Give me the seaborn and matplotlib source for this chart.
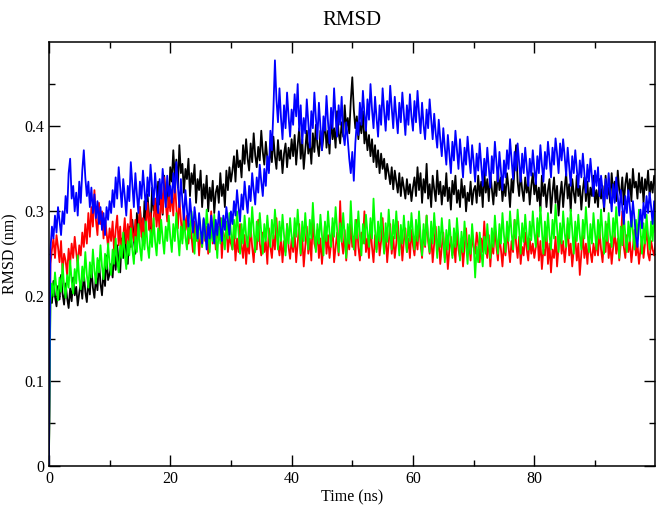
import numpy as np
import pandas as pd
import matplotlib
matplotlib.use("Agg")
import matplotlib.pyplot as plt
import seaborn as sns

# RMSD values, in pm (1e-3 nm), every 0.25 ns from 0 to 100 ns
black = [0,
    205, 192, 218, 200, 188, 212, 196, 225, 203, 190, 215, 198, 186, 209, 194, 222, 201, 211, 189, 204,
    216, 197, 228, 205, 193, 219, 202, 235, 210, 198, 224, 207, 242, 215, 201, 230, 212, 248, 219, 226,
    238, 222, 252, 231, 260, 240, 228, 268, 245, 275, 252, 238, 282, 258, 290, 266, 250, 298, 272, 305,
    280, 262, 312, 288, 320, 295, 276, 328, 301, 315, 290, 335, 308, 322, 296, 342, 316, 330, 305, 352,
    335, 372, 340, 361, 328, 378, 345, 356, 322, 350, 338, 362, 318, 345, 332, 355, 310, 338, 325, 348,
    305, 332, 315, 342, 300, 328, 312, 336, 298, 322, 330, 310, 345, 318, 332, 305, 348, 325, 352, 335,
    348, 365, 335, 372, 352, 360, 340, 378, 356, 385, 362, 348, 380, 358, 392, 366, 352, 376, 360, 395,
    370, 355, 382, 362, 348, 378, 358, 388, 365, 350, 384, 360, 372, 345, 368, 380, 352, 375, 362, 385,
    365, 390, 355, 378, 398, 362, 385, 350, 372, 395, 368, 382, 356, 392, 370, 402, 378, 365, 395, 372,
    388, 408, 375, 395, 368, 412, 385, 398, 375, 418, 392, 380, 405, 388, 425, 398, 410, 392, 430, 458,
    420, 398, 412, 385, 405, 392, 418, 380, 396, 372, 390, 365, 385, 358, 378, 352, 372, 345, 368, 350,
    362, 338, 356, 345, 332, 352, 326, 348, 335, 322, 345, 318, 340, 328, 315, 338, 320, 332, 312, 328,
    340, 318, 352, 325, 345, 310, 338, 322, 356, 315, 332, 305, 342, 326, 312, 348, 320, 335, 308, 330,
    318, 345, 312, 328, 302, 336, 320, 342, 310, 325, 305, 338, 316, 330, 300, 322, 312, 335, 308, 325,
    330, 310, 342, 318, 335, 305, 348, 322, 338, 312, 345, 326, 308, 335, 318, 350, 325, 340, 312, 332,
    318, 345, 328, 305, 338, 322, 352, 378, 335, 318, 345, 325, 312, 340, 322, 335, 308, 330, 345, 320,
    335, 312, 328, 300, 342, 318, 332, 305, 325, 338, 298, 322, 340, 310, 330, 295, 318, 335, 305, 328,
    345, 315, 332, 300, 338, 322, 310, 342, 318, 330, 302, 325, 340, 312, 335, 305, 328, 318, 342, 310,
    325, 305, 338, 315, 330, 300, 342, 318, 328, 310, 345, 322, 335, 312, 348, 325, 318, 340, 308, 332,
    345, 320, 338, 312, 350, 328, 335, 315, 345, 322, 340, 310, 338, 325, 348, 318, 335, 322, 342, 330]

red = [0,
    238, 255, 268, 245, 272, 258, 240, 265, 228, 250, 242, 225, 256, 238, 262, 245, 270, 252, 236, 260,
    248, 275, 258, 285, 262, 298, 270, 305, 282, 325, 290, 272, 310, 285, 300, 268, 292, 275, 258, 280,
    265, 288, 252, 278, 295, 260, 282, 248, 270, 292, 262, 285, 255, 302, 275, 265, 290, 258, 280, 305,
    270, 292, 262, 285, 310, 278, 298, 268, 290, 315, 282, 305, 275, 325, 298, 340, 310, 288, 320, 300,
    322, 295, 338, 305, 280, 315, 290, 268, 302, 278, 295, 262, 285, 270, 252, 288, 265, 280, 248, 275,
    258, 290, 265, 282, 250, 272, 300, 262, 285, 255, 278, 268, 292, 245, 275, 260, 285, 252, 270, 262,
    255, 278, 242, 268, 252, 285, 260, 245, 272, 238, 265, 250, 282, 258, 240, 270, 255, 290, 262, 248,
    275, 252, 265, 238, 280, 258, 245, 272, 255, 292, 262, 248, 270, 240, 265, 252, 285, 258, 244, 268,
    252, 275, 240, 262, 285, 248, 270, 235, 258, 282, 250, 268, 242, 295, 262, 255, 278, 245, 268, 238,
    260, 285, 250, 272, 245, 262, 282, 240, 258, 275, 248, 312, 265, 250, 278, 242, 268, 255, 285, 258,
    270, 248, 290, 258, 242, 275, 262, 300, 252, 268, 245, 285, 258, 240, 272, 255, 282, 248, 265, 292,
    252, 275, 240, 262, 285, 250, 270, 245, 262, 288, 255, 272, 242, 265, 280, 252, 268, 245, 278, 260,
    248, 272, 255, 288, 262, 245, 278, 258, 295, 265, 250, 272, 240, 262, 282, 252, 268, 238, 258, 275,
    245, 262, 232, 255, 270, 248, 262, 240, 278, 255, 245, 268, 235, 258, 280, 250, 265, 242, 272, 258,
    250, 275, 262, 240, 268, 252, 288, 258, 245, 272, 235, 262, 250, 282, 258, 242, 270, 255, 235, 262,
    248, 278, 258, 240, 265, 252, 290, 262, 245, 270, 238, 258, 248, 275, 255, 242, 268, 250, 262, 245,
    258, 275, 242, 265, 232, 255, 248, 278, 238, 262, 228, 255, 245, 270, 235, 258, 282, 250, 265, 240,
    258, 285, 248, 262, 235, 255, 270, 242, 262, 225, 250, 272, 245, 262, 238, 268, 252, 240, 262, 248,
    265, 248, 278, 255, 240, 268, 252, 285, 245, 262, 238, 258, 275, 250, 268, 242, 262, 300, 258, 245,
    272, 252, 265, 240, 258, 278, 248, 262, 238, 255, 270, 245, 262, 280, 250, 242, 265, 255, 248, 262]

green = [0,
    192, 215, 200, 228, 208, 195, 222, 205, 238, 212, 198, 225, 210, 242, 218, 203, 232, 215, 248, 220,
    208, 235, 218, 252, 225, 210, 240, 222, 255, 230, 215, 245, 228, 260, 235, 220, 250, 232, 262, 238,
    225, 255, 238, 268, 242, 228, 260, 245, 275, 250, 232, 265, 248, 280, 255, 238, 270, 252, 285, 258,
    242, 275, 255, 288, 260, 245, 278, 258, 292, 265, 248, 280, 262, 290, 268, 250, 282, 265, 295, 270,
    252, 285, 265, 298, 272, 248, 282, 262, 292, 270, 255, 288, 268, 300, 275, 250, 285, 265, 295, 272,
    258, 290, 268, 302, 278, 252, 285, 265, 296, 272, 245, 282, 262, 292, 270, 255, 288, 268, 298, 275,
    255, 290, 268, 300, 275, 250, 285, 262, 295, 272, 258, 292, 270, 305, 278, 252, 288, 265, 298, 275,
    250, 285, 265, 295, 272, 258, 290, 268, 302, 278, 255, 288, 265, 296, 272, 248, 285, 262, 292, 270,
    258, 292, 270, 302, 275, 250, 288, 265, 298, 272, 255, 290, 268, 310, 278, 252, 285, 262, 296, 272,
    248, 288, 265, 300, 275, 258, 292, 270, 305, 278, 252, 286, 264, 298, 272, 245, 285, 262, 312, 275,
    255, 290, 268, 300, 272, 248, 285, 262, 296, 275, 258, 292, 268, 315, 278, 252, 288, 265, 298, 272,
    250, 286, 264, 302, 275, 255, 290, 268, 300, 272, 248, 284, 262, 295, 270, 252, 288, 265, 298, 275,
    255, 290, 265, 300, 272, 248, 285, 260, 295, 270, 252, 288, 262, 298, 272, 245, 282, 258, 292, 268,
    240, 278, 255, 290, 265, 245, 280, 258, 292, 268, 242, 276, 252, 288, 262, 238, 272, 250, 285, 262,
    222, 258, 240, 275, 252, 235, 270, 250, 285, 262, 245, 280, 258, 295, 270, 250, 285, 262, 298, 272,
    252, 288, 265, 300, 275, 255, 290, 268, 302, 278, 250, 286, 264, 296, 272, 255, 288, 266, 300, 275,
    258, 292, 270, 305, 278, 250, 288, 265, 298, 272, 255, 290, 268, 308, 280, 252, 286, 262, 300, 275,
    258, 292, 268, 302, 278, 250, 288, 265, 296, 272, 255, 290, 268, 305, 278, 252, 285, 262, 298, 275,
    255, 290, 268, 302, 275, 250, 288, 265, 298, 272, 258, 292, 270, 305, 278, 245, 282, 260, 296, 272,
    252, 288, 265, 300, 275, 255, 290, 268, 302, 278, 250, 286, 262, 296, 272, 255, 288, 265, 298, 275]

blue = [0,
    255, 282, 268, 295, 275, 305, 288, 272, 300, 285, 318, 298, 345, 362, 315, 330, 300, 322, 295, 335,
    310, 348, 372, 340, 318, 335, 305, 328, 298, 320, 292, 312, 285, 305, 278, 298, 272, 305, 290, 312,
    298, 325, 305, 340, 315, 352, 328, 305, 338, 318, 295, 330, 312, 358, 332, 305, 345, 320, 298, 335,
    315, 348, 325, 302, 340, 318, 355, 330, 308, 345, 322, 298, 338, 315, 350, 328, 305, 342, 318, 330,
    310, 345, 322, 358, 330, 305, 338, 312, 290, 325, 302, 282, 315, 295, 275, 305, 288, 268, 298, 280,
    262, 292, 275, 255, 285, 268, 295, 278, 262, 290, 272, 300, 282, 265, 295, 278, 305, 288, 272, 300,
    285, 312, 295, 325, 305, 288, 320, 302, 335, 315, 298, 330, 312, 345, 325, 308, 340, 322, 355, 335,
    318, 350, 330, 365, 345, 395, 372, 420, 478, 432, 405, 445, 410, 385, 425, 398, 440, 412, 388, 420,
    402, 438, 412, 450, 395, 425, 380, 410, 392, 432, 405, 375, 418, 398, 440, 410, 385, 428, 400, 372,
    412, 395, 436, 405, 380, 422, 398, 445, 412, 388, 425, 402, 435, 392, 378, 405, 385, 362, 345, 370,
    336, 380, 405, 390, 428, 402, 442, 415, 395, 432, 408, 450, 420, 398, 435, 410, 388, 425, 402, 445,
    418, 395, 430, 408, 448, 422, 398, 435, 412, 392, 428, 405, 440, 415, 390, 425, 402, 438, 412, 395,
    430, 405, 442, 415, 392, 428, 402, 385, 420, 398, 432, 408, 385, 415, 392, 375, 408, 385, 365, 398,
    375, 355, 390, 368, 345, 382, 360, 395, 372, 350, 385, 362, 340, 375, 355, 388, 365, 345, 378, 358,
    335, 368, 348, 380, 355, 330, 362, 342, 375, 352, 328, 365, 345, 382, 358, 335, 370, 348, 325, 360,
    340, 372, 350, 385, 362, 338, 370, 348, 380, 358, 335, 368, 345, 375, 352, 330, 362, 342, 372, 350,
    332, 365, 345, 378, 355, 335, 370, 350, 382, 362, 340, 375, 355, 386, 368, 345, 380, 360, 385, 365,
    342, 375, 352, 330, 365, 345, 372, 350, 328, 360, 340, 368, 345, 322, 355, 335, 362, 340, 318, 348,
    330, 352, 318, 342, 325, 305, 338, 315, 345, 322, 300, 332, 310, 340, 318, 295, 325, 305, 285, 318,
    298, 325, 305, 282, 312, 292, 270, 258, 285, 302, 280, 310, 292, 318, 298, 322, 305, 285, 312, 300]

series_names = ["black", "red", "green", "blue"]
series_colors = ["#000000", "#ff0000", "#00ff00", "#0000ff"]
step_ns = 0.25

frames = []
for name, vals in zip(series_names, [black, red, green, blue]):
    assert len(vals) == 401, (name, len(vals))
    vals = np.array(vals) / 1000.0
    frames.append(pd.DataFrame({"time": np.arange(len(vals)) * step_ns, "rmsd": vals, "series": name}))
df = pd.concat(frames, ignore_index=True)

sns.set_style("ticks")
plt.rcParams["font.family"] = ["Liberation Serif", "DejaVu Serif"]
plt.rcParams["text.color"] = "black"
plt.rcParams["axes.labelcolor"] = "black"
plt.rcParams["xtick.color"] = "black"
plt.rcParams["ytick.color"] = "black"

fig = plt.figure(figsize=(6.61, 5.08), dpi=100)
ax = fig.add_axes([0.074, 0.083, 0.917, 0.835])
sns.lineplot(data=df, x="time", y="rmsd", hue="series", hue_order=series_names,
             palette=series_colors, estimator=None, sort=False, lw=1.3, legend=False, ax=ax)

ax.set_xlim(0, 99.9)
ax.set_ylim(0, 0.5)
ax.set_xticks([0, 20, 40, 60, 80])
ax.set_xticks([10, 30, 50, 70, 90], minor=True)
ax.set_yticks([0, 0.1, 0.2, 0.3, 0.4])
ax.set_yticklabels(["0", "0.1", "0.2", "0.3", "0.4"])
ax.set_yticks([0.05, 0.15, 0.25, 0.35, 0.45], minor=True)
ax.tick_params(which="both", direction="in", top=True, right=True, labelsize=11.5, width=1)
ax.tick_params(which="major", length=8)
ax.tick_params(which="minor", length=4)
for s in ax.spines.values():
    s.set_linewidth(1.1)
    s.set_color("black")

ax.set_xlabel("Time (ns)", fontsize=11.5, labelpad=2)
ax.set_ylabel("RMSD (nm)", fontsize=11.5, labelpad=4)
ax.set_title("RMSD", fontsize=15, pad=12)

fig.savefig("out.png", dpi=100)
